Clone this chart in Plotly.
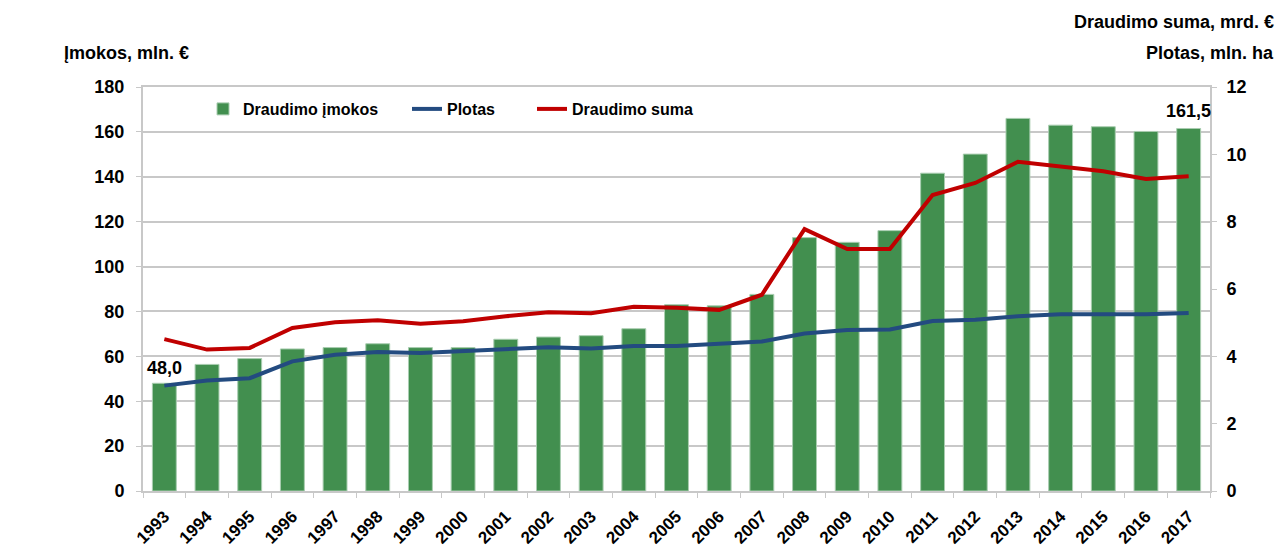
import plotly.graph_objects as go

years = [str(y) for y in range(1993, 2018)]
imokos = [48.0, 56.4, 59.0, 63.3, 63.9, 65.6, 63.9, 63.9, 67.6, 68.6, 69.2, 72.3, 83.0,
          82.5, 87.6, 112.9, 110.8, 116.0, 141.6, 150.1, 166.0, 163.0, 162.3, 160.2, 161.5]
plotas = [3.13, 3.28, 3.35, 3.85, 4.05, 4.13, 4.10, 4.15, 4.23, 4.27, 4.23, 4.31, 4.31,
          4.36, 4.44, 4.68, 4.78, 4.80, 5.05, 5.09, 5.19, 5.25, 5.25, 5.25, 5.29]
suma = [4.51, 4.20, 4.25, 4.84, 5.01, 5.07, 4.97, 5.04, 5.19, 5.31, 5.28, 5.47, 5.44,
        5.38, 5.83, 7.78, 7.19, 7.19, 8.79, 9.15, 9.78, 9.65, 9.50, 9.27, 9.35]
label_first = "48,0"
label_last = "161,5"

FONT = "Liberation Sans, Arial, sans-serif"
GRID = "#c8c8c8"
TICKFONT = dict(family=FONT, size=18, color="black", weight="bold")
XTICKFONT = dict(family=FONT, size=17, color="black", weight="bold")

W, H = 1280, 548
l, r, t, b = 143, 70, 87, 57
pw, ph = W - l - r, H - t - b
def px(xp):
    return (xp - l) / pw
def py(yp):
    return (H - b - yp) / ph

fig = go.Figure()
fig.add_trace(go.Bar(x=years, y=imokos, name="Draudimo įmokos",
                     marker=dict(color="#428f4f", line=dict(color="#a9cdb0", width=1)),
                     yaxis="y", legend="legend"))
fig.add_trace(go.Scatter(x=years, y=plotas, name="Plotas", mode="lines",
                         line=dict(color="#234b80", width=4), yaxis="y2", legend="legend2"))
fig.add_trace(go.Scatter(x=years, y=suma, name="Draudimo suma", mode="lines",
                         line=dict(color="#c00000", width=4), yaxis="y2", legend="legend3"))

LEGFONT = dict(family=FONT, size=16, color="black", weight="bold")
def leg(xp):
    return dict(x=px(xp), y=py(109), xanchor="left", yanchor="middle", font=LEGFONT,
                bgcolor="rgba(0,0,0,0)", orientation="h")

fig.update_layout(
    width=W, height=H,
    margin=dict(l=l, r=r, t=t, b=b, autoexpand=False),
    paper_bgcolor="white", plot_bgcolor="white",
    bargap=0.44,
    showlegend=True,
    legend=leg(203), legend2=leg(407), legend3=leg(532),
    xaxis=dict(type="category", range=[-0.5, 24.5], tickangle=-45, tickson="boundaries",
               ticks="outside", ticklen=5, tickcolor=GRID, showline=True, linecolor=GRID,
               linewidth=2, mirror=True, showgrid=False, automargin=False,
               ticklabelstandoff=7, tickfont=XTICKFONT),
    yaxis=dict(range=[0, 180], dtick=20, showgrid=True, gridcolor=GRID, gridwidth=1.5,
               ticks="outside", ticklen=5, tickcolor=GRID, showline=True, linecolor=GRID,
               linewidth=2, zeroline=False, ticklabelstandoff=8, automargin=False,
               tickfont=TICKFONT),
    yaxis2=dict(range=[0, 12], dtick=2, overlaying="y", side="right", showgrid=False,
                ticks="outside", ticklen=5, tickcolor=GRID, showline=True, linecolor=GRID,
                linewidth=2, zeroline=False, ticklabelstandoff=6, automargin=False,
                tickfont=TICKFONT),
)

fig.add_annotation(x=0, y=imokos[0], xref="x", yref="y", text=label_first,
                   showarrow=False, yshift=15, font=TICKFONT)
fig.add_annotation(x=len(years) - 1, y=imokos[-1], xref="x", yref="y", text=label_last,
                   showarrow=False, yshift=18, font=TICKFONT)
fig.add_annotation(x=px(62), y=py(53), xref="paper", yref="paper", text="Įmokos, mln. €",
                   showarrow=False, xanchor="left", yanchor="middle", font=TICKFONT)
fig.add_annotation(x=px(1276), y=py(22), xref="paper", yref="paper", text="Draudimo suma, mrd. €",
                   showarrow=False, xanchor="right", yanchor="middle", font=TICKFONT)
fig.add_annotation(x=px(1276), y=py(53), xref="paper", yref="paper", text="Plotas, mln. ha",
                   showarrow=False, xanchor="right", yanchor="middle", font=TICKFONT)

fig.write_html("out.html", config={"displayModeBar": False},
               post_script="document.body.style.margin='0';")
